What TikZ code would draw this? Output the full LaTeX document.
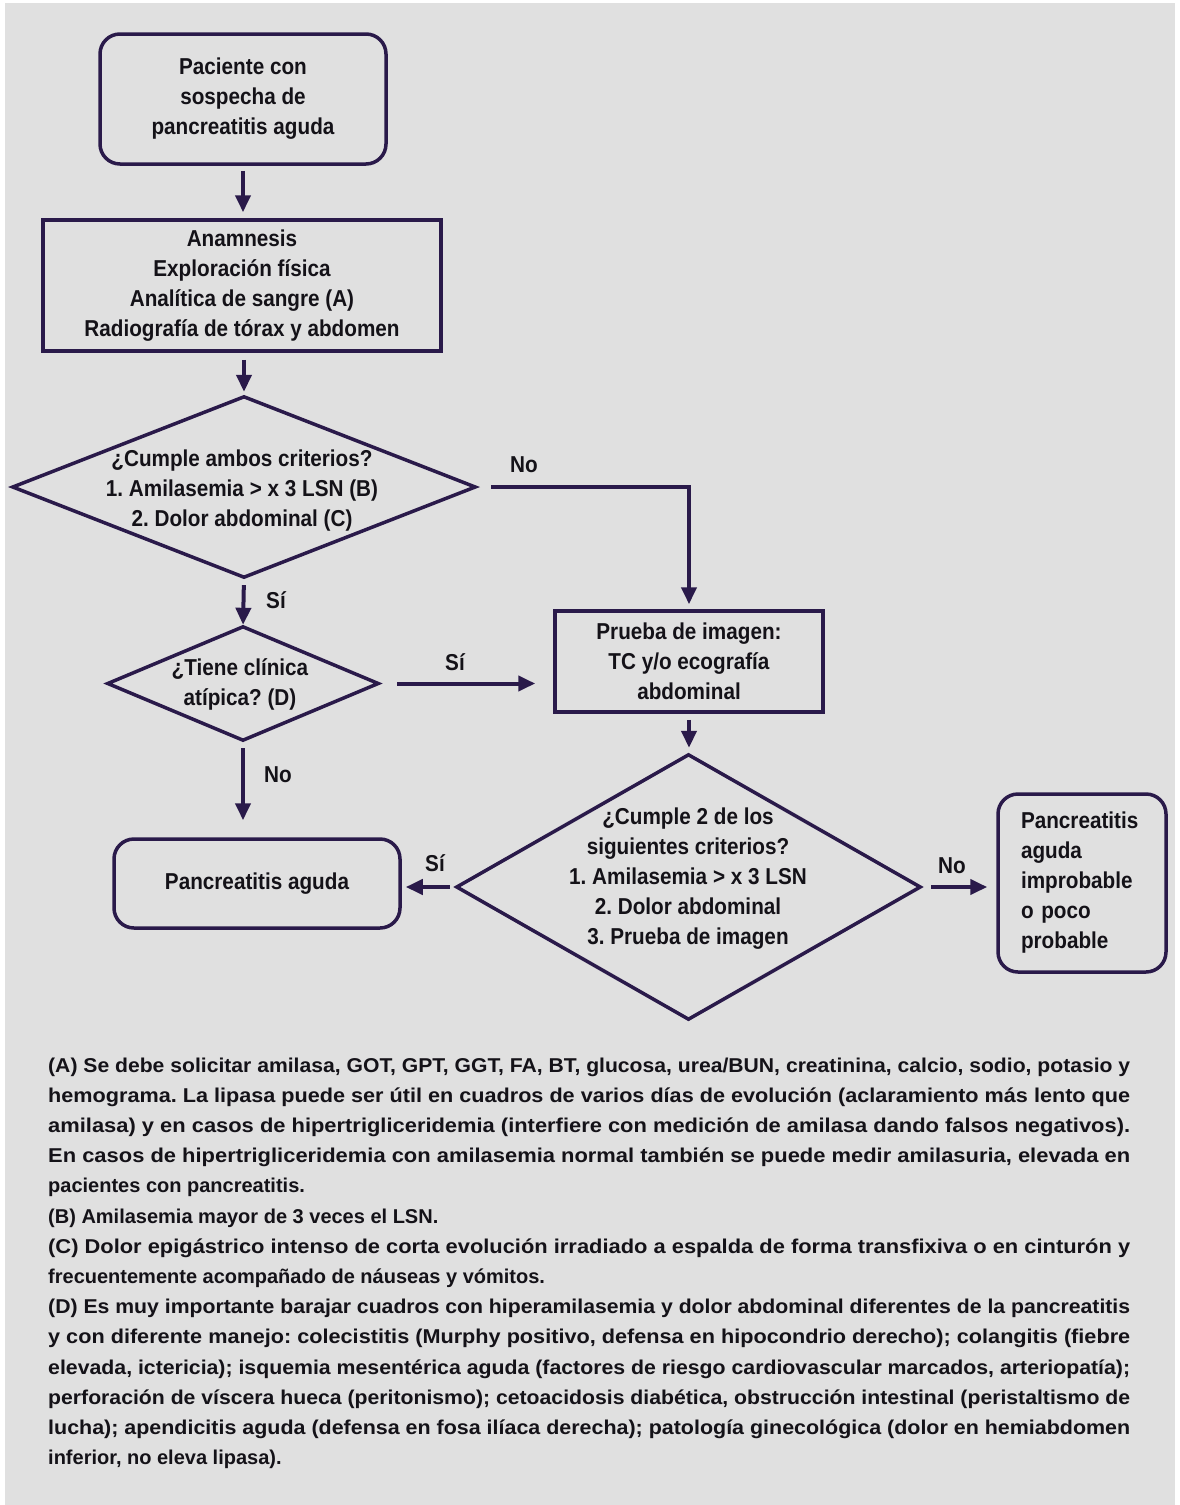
\documentclass[tikz,border=0pt]{standalone}
\usepackage{graphicx}
\usepackage{fontspec}
\setmainfont{Liberation Sans}
\newfontfamily\diagfont[FakeStretch=0.9]{Liberation Sans Bold}
\newfontfamily\footfont{Liberation Sans Bold}
\usetikzlibrary{arrows.meta}
\definecolor{ln}{RGB}{42,26,74}
\definecolor{bgc}{RGB}{224,224,224}
\definecolor{tx}{RGB}{20,18,24}
\frenchspacing
\newsavebox\fnbox
\newcommand{\jl}[1]{\sbox\fnbox{#1}\pgfmathsetmacro\fnr{1082/\wd\fnbox}\scalebox{\fnr}[1]{\usebox\fnbox}}
\begin{document}
\begin{tikzpicture}[x=1pt,y=-1pt,
  shp/.style={draw=ln, line width=3.5pt, inner sep=0pt, align=center, text=tx,
              font=\diagfont\fontsize{23}{30}\selectfont},
  rbox/.style={shp, rounded corners=20pt},
  dia/.style={inner sep=0pt},
  dtext/.style={align=center, inner sep=0pt, text=tx, font=\diagfont\fontsize{23}{30}\selectfont},
  arr/.style={draw=ln, line width=4pt, -{Triangle[length=17pt,width=15pt]}},
  lbl/.style={inner sep=0pt, text=tx, font=\diagfont\fontsize{23}{30}\selectfont},
  fn/.style={anchor=base west, inner sep=0pt, text=tx, font=\footfont\fontsize{20}{30}\selectfont}]
\useasboundingbox (0,0) rectangle (1179,1505);
\fill[bgc] (5,3) rectangle (1175,1505);

% nodes
\node[rbox, minimum width=286pt, minimum height=130pt] (start) at (243,99)
  {Paciente con\\sospecha de\\pancreatitis aguda};
\node[shp, minimum width=398pt, minimum height=131pt] (anam) at (242,285.5)
  {Anamnesis\\Exploración física\\Analítica de sangre (A)\\Radiografía de tórax y abdomen};
\node[dia, minimum width=462pt, minimum height=180pt] (d1) at (244,487) {};
\draw[draw=ln, line width=3.5pt] (d1.north) -- (d1.east) -- (d1.south) -- (d1.west) -- cycle;
\node[dtext] (d1t) at (242,491) {¿Cumple ambos criterios?\\1. Amilasemia > x 3 LSN (B)\\2. Dolor abdominal (C)};

\node[dia, minimum width=270pt, minimum height=113pt] (d2) at (243,683.5) {};
\draw[draw=ln, line width=3.5pt] (d2.north) -- (d2.east) -- (d2.south) -- (d2.west) -- cycle;
\node[dtext] (d2t) at (240,684) {¿Tiene clínica\\atípica? (D)};

\node[shp, minimum width=268pt, minimum height=101pt] (prueba) at (689,661.5)
  {Prueba de imagen:\\TC y/o ecografía\\abdominal};

\node[dia, minimum width=463pt, minimum height=264pt] (d3) at (688.5,887) {};
\draw[draw=ln, line width=3.5pt] (d3.north) -- (d3.east) -- (d3.south) -- (d3.west) -- cycle;
\node[dtext] (d3t) at (688,879) {¿Cumple 2 de los\\siguientes criterios?\\1. Amilasemia > x 3 LSN\\2. Dolor abdominal\\3. Prueba de imagen};

\node[rbox, minimum width=168pt, minimum height=178pt, text width=122pt, inner xsep=23pt, align=left] (impro) at (1082,883)
  {Pancreatitis\\aguda\\improbable\\o poco\\probable};

\node[rbox, minimum width=286pt, minimum height=89pt] (pa) at (257,883.5) {Pancreatitis aguda};

% connectors
\draw[arr, shorten <=5pt, shorten >=6pt] (start.south) -- (start.south |- anam.north);
\draw[arr, shorten <=7pt, shorten >=5pt] (anam.south -| d1.north) -- (d1.north);
\draw[arr, shorten <=16pt, shorten >=5pt] (d1.east) -- (d1.east -| prueba.north) -- (prueba.north);
\draw[arr, shorten <=8pt, shorten >=2pt] (d1.south) -- (d2.north);
\draw[arr, shorten <=19pt, shorten >=18pt] (d2.east) -- (d2.east -| prueba.west);
\draw[arr, shorten <=8pt, shorten >=17pt] (d2.south) -- (d2.south |- pa.north);
\draw[arr, shorten <=6pt, shorten >=7pt] (prueba.south) -- (prueba.south |- d3.north);
\draw[arr, shorten <=11pt, shorten >=9pt] (d3.east) -- (d3.east -| impro.west);
\draw[arr, shorten <=7pt, shorten >=4pt] (d3.west) -- (d3.west -| pa.east);

% labels
\node[lbl] (l1) at (524,465) {No};
\node[lbl] (l2) at (276,600) {Sí};
\node[lbl] (l3) at (455,662) {Sí};
\node[lbl] (l4) at (278,775) {No};
\node[lbl] (l5) at (952,866) {No};
\node[lbl] (l6) at (435,863) {Sí};

% footnotes
\node[fn] (f1) at (48,1072) {\jl{(A) Se debe solicitar amilasa, GOT, GPT, GGT, FA, BT, glucosa, urea/BUN, creatinina, calcio, sodio, potasio y}};
\node[fn] (f2) at (48,1102.2) {\jl{hemograma. La lipasa puede ser útil en cuadros de varios días de evolución (aclaramiento más lento que}};
\node[fn] (f3) at (48,1132.4) {\jl{amilasa) y en casos de hipertrigliceridemia (interfiere con medición de amilasa dando falsos negativos).}};
\node[fn] (f4) at (48,1162.6) {\jl{En casos de hipertrigliceridemia con amilasemia normal también se puede medir amilasuria, elevada en}};
\node[fn] (f5) at (48,1192.8) {pacientes con pancreatitis.};
\node[fn] (f6) at (48,1223) {(B) Amilasemia mayor de 3 veces el LSN.};
\node[fn] (f7) at (48,1253.2) {\jl{(C) Dolor epigástrico intenso de corta evolución irradiado a espalda de forma transfixiva o en cinturón y}};
\node[fn] (f8) at (48,1283.4) {frecuentemente acompañado de náuseas y vómitos.};
\node[fn] (f9) at (48,1313.6) {\jl{(D) Es muy importante barajar cuadros con hiperamilasemia y dolor abdominal diferentes de la pancreatitis}};
\node[fn] (f10) at (48,1343.8) {\jl{y con diferente manejo: colecistitis (Murphy positivo, defensa en hipocondrio derecho); colangitis (fiebre}};
\node[fn] (f11) at (48,1374) {\jl{elevada, ictericia); isquemia mesentérica aguda (factores de riesgo cardiovascular marcados, arteriopatía);}};
\node[fn] (f12) at (48,1404.2) {\jl{perforación de víscera hueca (peritonismo); cetoacidosis diabética, obstrucción intestinal (peristaltismo de}};
\node[fn] (f13) at (48,1434.4) {\jl{lucha); apendicitis aguda (defensa en fosa ilíaca derecha); patología ginecológica (dolor en hemiabdomen}};
\node[fn] (f14) at (48,1464.6) {inferior, no eleva lipasa).};
\end{tikzpicture}
\end{document}
